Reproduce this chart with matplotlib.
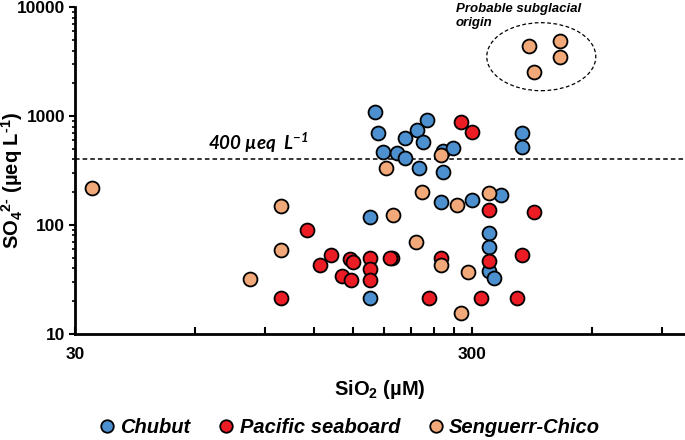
import matplotlib
matplotlib.use('Agg')
import matplotlib.pyplot as plt
from matplotlib.patches import Ellipse
from matplotlib.lines import Line2D
from matplotlib.ticker import FixedLocator, LogLocator, NullFormatter

# ---------------- data ----------------
chubut_x = [171, 174, 231, 218, 203, 226, 179, 194, 203, 253, 269, 221, 253,
            401, 401, 250, 300, 354, 166, 331, 331, 331, 341, 166]
chubut_y = [1084, 695, 921, 745, 625, 582, 464, 455, 409, 477, 506, 331, 308,
            695, 523, 163, 169, 188, 117, 83.5, 62.9, 37.6, 32.2, 21.1]

pacific_x = [281, 300, 331, 430, 115, 132, 124, 148, 150, 166, 166, 166, 141,
             149, 188, 186, 250, 331, 401, 99, 233, 316, 390]
pacific_y = [888, 719, 137, 130, 89.6, 52.7, 42.7, 48.4, 45.5, 49.2, 39.0, 31.1,
             33.8, 31.1, 49.2, 50, 49.8, 46.4, 52.7, 21.4, 21.4, 21.4, 21.4]

senguerr_x = [33.1, 99, 99, 82.8, 190, 182, 250, 224, 274, 331, 216, 250, 292,
              281, 416, 498, 498, 430]
senguerr_y = [218, 150, 58.6, 31.5, 123, 331, 439, 199, 152, 195, 69.9, 42.7,
              37.0, 15.3, 4416, 4943, 3475, 2561]

series_names = ['Chubut', 'Pacific seaboard', 'Senguerr-Chico']
threshold = 400

x_major = [30, 300]
x_major_labels = ['30', '300']
x_minor = [60, 90, 120, 150, 180, 210, 240, 270, 600, 900]
y_major = [10, 100, 1000, 10000]
y_major_labels = ['10', '100', '1000', '10000']

# ---------------- style ----------------
plt.rcParams['font.family'] = ['Liberation Sans', 'DejaVu Sans']
plt.rcParams['mathtext.default'] = 'regular'

c_blue = '#4D90CF'
c_red = '#EC1C24'
c_peach = '#F1A97A'

fig = plt.figure(figsize=(6.85, 4.4), dpi=100)
ax = fig.add_axes([0.1095, 0.2420, 0.8905, 0.7414])
ax.set_xscale('log')
ax.set_yscale('log')
ax.set_xlim(30, 1030)
ax.set_ylim(10, 10000)

for s in ['top', 'right']:
    ax.spines[s].set_visible(False)
for s in ['left', 'bottom']:
    ax.spines[s].set_linewidth(2)

ax.axhline(threshold, color='black', lw=1.1, ls=(0, (3, 2)), zorder=1)

kw = dict(s=100, edgecolors='black', linewidths=1.3, zorder=3, clip_on=False)
ax.scatter(chubut_x, chubut_y, color=c_blue, **kw)
ax.scatter(pacific_x, pacific_y, color=c_red, **kw)
ax.scatter(senguerr_x, senguerr_y, color=c_peach, **kw)

# ticks
ax.xaxis.set_major_locator(FixedLocator(x_major))
ax.set_xticklabels(x_major_labels, fontweight='bold', fontsize=12.5)
ax.xaxis.set_minor_locator(FixedLocator(x_minor))
ax.xaxis.set_minor_formatter(NullFormatter())
ax.tick_params(axis='x', which='both', direction='in', length=5, width=1.5, pad=10)

ax.yaxis.set_major_locator(FixedLocator(y_major))
ax.set_yticklabels(y_major_labels, fontweight='bold', fontsize=12.5)
ax.yaxis.set_minor_locator(LogLocator(base=10, subs=range(2, 10)))
ax.yaxis.set_minor_formatter(NullFormatter())
ax.tick_params(axis='y', which='major', direction='out', length=4, width=1.5, pad=3)
ax.tick_params(axis='y', which='minor', direction='out', length=2.5, width=1.2)

# axis labels
ax.set_xlabel('SiO$_2$ (µM)', fontsize=14.5, fontweight='bold')
ax.xaxis.label.set_va('center')
ax.xaxis.set_label_coords(0.5, -0.173)
ax.set_ylabel('SO$_4$$^{2\u2010}$ (µeq L$^{\u20101}$)', fontsize=14.5, fontweight='bold')
ax.yaxis.label.set_va('center')
ax.yaxis.set_label_coords(-0.1025, 0.4706)

# annotations
ax.text(0.2185, 0.5625, '400 µeq  L$^{-1}$', transform=ax.transAxes,
        family=['Lato', 'DejaVu Sans'], fontsize=13.5, fontweight='bold',
        fontstyle='italic', va='baseline', ha='left')
ax.text(0.624, 1.012, 'Probable subglacial\norigin', transform=ax.transAxes,
        fontsize=9.5, fontweight='bold', fontstyle='italic', va='top', ha='left',
        linespacing=1.2, clip_on=False)
ax.add_patch(Ellipse((0.7644, 0.8486), 0.1787, 0.2085, transform=ax.transAxes,
                     fill=False, ls=(0, (3, 2)), lw=0.9, color='black'))

# legend
handles = [Line2D([], [], marker='o', ls='none', markersize=9,
                  markerfacecolor=c, markeredgecolor='black', markeredgewidth=1.3)
           for c in (c_blue, c_red, c_peach)]
fig.legend(handles, series_names, loc='center', bbox_to_anchor=(0.5117, 0.0273),
           ncol=3, frameon=False,
           prop={'weight': 'bold', 'style': 'italic', 'size': 14.5},
           handlelength=0.6, handletextpad=0.35, columnspacing=1.5,
           borderaxespad=0, borderpad=0)

fig.savefig('out.png', dpi=100)
